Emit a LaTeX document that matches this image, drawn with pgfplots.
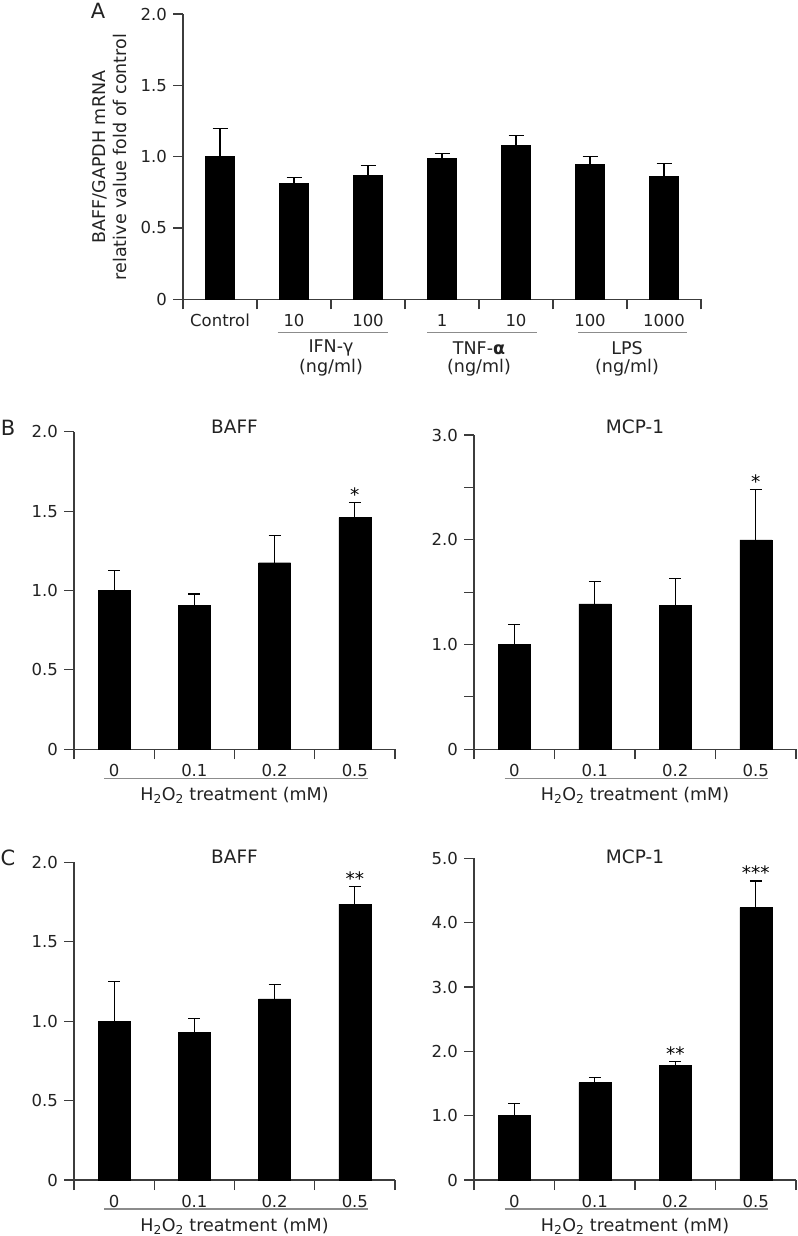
\documentclass[border=0pt]{standalone}
\usepackage{fontspec}
\setmainfont{DejaVu Sans}
\usepackage{pgfplots}
\pgfplotsset{compat=1.18}
\definecolor{axgray}{HTML}{3C3C3C}
\definecolor{txt}{HTML}{222222}
\definecolor{grp}{HTML}{8C8C8C}
\newcommand{\fs}{\fontsize{17.5bp}{21bp}\selectfont}
\newcommand{\fst}{\fontsize{16.5bp}{20bp}\selectfont}
\newcommand{\fsh}{\fontsize{18.5bp}{22bp}\selectfont}
\pgfplotsset{
  common/.style={
    scale only axis, anchor=south west, clip=false,
    axis lines=left, axis line style={-, draw=axgray, line width=1.1bp},
    ymin=0, ybar, bar shift=0pt,
    major tick length=0pt, minor tick length=10bp, tick align=outside,
    minor tick style={draw=axgray, line width=1.1bp},
    tick label style={font=\fst, text=txt},
    xticklabel style={yshift=-9bp},
    yticklabel style={xshift=-10bp},
    /pgf/number format/assume math mode=true,
  },
  hbars/.style={
    xmin=-0.5, xmax=3.5, xtick={0,1,2,3}, xticklabels={0,0.1,0.2,0.5},
    minor xtick={-0.5,0.5,1.5,2.5,3.5}, bar width=32bp,
  },
  ebar/.style={fill=black, draw=black, line width=0.4bp,
    error bars/.cd, y dir=plus, y explicit,
    error bar style={line width=1.1bp, black},
    error mark options={rotate=90, mark size=#1, line width=1.1bp, black}},
}
\tikzset{lab/.style={font=\fs, text=txt}, ttl/.style={font=\fsh, text=txt},
  star/.style={font=\fsh, text=black, anchor=base, yshift=1bp}}
\begin{document}
\fs
\begin{tikzpicture}[font=\fs, text=txt]
\useasboundingbox (0,0) rectangle (798bp,-1236bp);
% panel letters
\node[font=\fontsize{21bp}{24bp}\selectfont] at (98bp,-11bp) {A};
\node[font=\fontsize{21bp}{24bp}\selectfont] at (8bp,-428bp) {B};
\node[font=\fontsize{21bp}{24bp}\selectfont] at (8bp,-858bp) {C};
\node[rotate=90, align=center, lab] at (110bp,-157bp) {BAFF/GAPDH mRNA\\relative value fold of control};

% ---------- Panel A
\begin{axis}[common, at={(183bp,-299.3bp)}, width=518bp, height=285.3bp,
  xmin=-0.5, xmax=6.5, ymax=2,
  xtick={0,...,6}, xticklabels={Control,10,100,1,10,100,1000},
  minor xtick={-0.5,0.5,...,6.5},
  ytick={0,0.5,1,1.5,2}, yticklabels={0,0.5,1.0,1.5,2.0},
  minor ytick={0,0.5,1,1.5,2}, bar width=29bp]
\addplot[ebar=7.5bp] coordinates {
  (0,1.00) +- (0,0.20)
  (1,0.815) +- (0,0.042)
  (2,0.867) +- (0,0.070)
  (3,0.986) +- (0,0.035)
  (4,1.077) +- (0,0.070)
  (5,0.946) +- (0,0.056)
  (6,0.860) +- (0,0.089)
};
\draw[grp, line width=1.2bp] ([yshift=-33bp]axis cs:0.78,0) -- ([yshift=-33bp]axis cs:2.27,0);
\draw[grp, line width=1.2bp] ([yshift=-33bp]axis cs:2.80,0) -- ([yshift=-33bp]axis cs:4.28,0);
\draw[grp, line width=1.2bp] ([yshift=-33bp]axis cs:4.84,0) -- ([yshift=-33bp]axis cs:6.31,0);
\node[lab] at ([yshift=-49bp]axis cs:1.5,0) {IFN-γ};
\node[lab] at ([yshift=-68bp]axis cs:1.5,0) {(ng/ml)};
\node[lab] at ([yshift=-49bp]axis cs:3.5,0) {TNF-\textbf{α}};
\node[lab] at ([yshift=-68bp]axis cs:3.5,0) {(ng/ml)};
\node[lab] at ([yshift=-49bp]axis cs:5.5,0) {LPS};
\node[lab] at ([yshift=-68bp]axis cs:5.5,0) {(ng/ml)};
\end{axis}

% ---------- Panel B left
\begin{axis}[common, hbars, at={(74bp,-749.3bp)}, width=321bp, height=317.6bp,
  ymax=2, ytick={0,0.5,1,1.5,2}, yticklabels={0,0.5,1.0,1.5,2.0},
  minor ytick={0,0.5,1,1.5,2}]
\addplot[ebar=6bp] coordinates {
  (0,1.003) +- (0,0.122)
  (1,0.905) +- (0,0.073)
  (2,1.175) +- (0,0.172)
  (3,1.459) +- (0,0.094)
};
\node[star] at (axis cs:3,1.553) {*};
\node[ttl] at ([yshift=5bp]rel axis cs:0.5,1) {BAFF};
\draw[grp, line width=1.2bp] ([yshift=-29bp]axis cs:-0.12,0) -- ([yshift=-29bp]axis cs:3.16,0);
\node[lab] at ([yshift=-46bp]axis cs:1.5,0) {H\textsubscript{2}O\textsubscript{2} treatment (mM)};
\end{axis}

% ---------- Panel B right
\begin{axis}[common, hbars, at={(474bp,-749.3bp)}, width=322bp, height=314.3bp,
  ymax=3, ytick={0,0.5,...,3}, yticklabels={0,,1.0,,2.0,,3.0},
  minor ytick={0,0.5,...,3}]
\addplot[ebar=6bp] coordinates {
  (0,0.999) +- (0,0.191)
  (1,1.387) +- (0,0.217)
  (2,1.371) +- (0,0.261)
  (3,1.998) +- (0,0.484)
};
\node[star] at (axis cs:3,2.482) {*};
\node[ttl] at ([yshift=8bp]rel axis cs:0.5,1) {MCP-1};
\draw[grp, line width=1.2bp] ([yshift=-29bp]axis cs:-0.12,0) -- ([yshift=-29bp]axis cs:3.15,0);
\node[lab] at ([yshift=-46bp]axis cs:1.5,0) {H\textsubscript{2}O\textsubscript{2} treatment (mM)};
\end{axis}

% ---------- Panel C left
\begin{axis}[common, hbars, at={(74bp,-1180bp)}, width=321bp, height=317.7bp,
  ymax=2, ytick={0,0.5,1,1.5,2}, yticklabels={0,0.5,1.0,1.5,2.0},
  minor ytick={0,0.5,1,1.5,2}]
\addplot[ebar=6bp] coordinates {
  (0,1.001) +- (0,0.248)
  (1,0.928) +- (0,0.088)
  (2,1.140) +- (0,0.092)
  (3,1.736) +- (0,0.111)
};
\node[star] at (axis cs:3,1.847) {**};
\node[ttl] at ([yshift=5.6bp]rel axis cs:0.5,1) {BAFF};
\draw[grp, line width=1.2bp] ([yshift=-29bp]axis cs:-0.12,0) -- ([yshift=-29bp]axis cs:3.16,0);
\node[lab] at ([yshift=-46bp]axis cs:1.5,0) {H\textsubscript{2}O\textsubscript{2} treatment (mM)};
\end{axis}

% ---------- Panel C right
\begin{axis}[common, hbars, at={(474bp,-1180bp)}, width=322bp, height=321.7bp,
  ymax=5, ytick={0,1,2,3,4,5}, yticklabels={0,1.0,2.0,3.0,4.0,5.0},
  minor ytick={0,1,2,3,4,5}]
\addplot[ebar=6bp] coordinates {
  (0,1.010) +- (0,0.182)
  (1,1.513) +- (0,0.078)
  (2,1.777) +- (0,0.062)
  (3,4.233) +- (0,0.415)
};
\node[star] at (axis cs:2,1.839) {**};
\node[star] at (axis cs:3,4.648) {***};
\node[ttl] at ([yshift=1.6bp]rel axis cs:0.5,1) {MCP-1};
\draw[grp, line width=1.2bp] ([yshift=-29bp]axis cs:-0.12,0) -- ([yshift=-29bp]axis cs:3.15,0);
\node[lab] at ([yshift=-46bp]axis cs:1.5,0) {H\textsubscript{2}O\textsubscript{2} treatment (mM)};
\end{axis}
\end{tikzpicture}
\end{document}
